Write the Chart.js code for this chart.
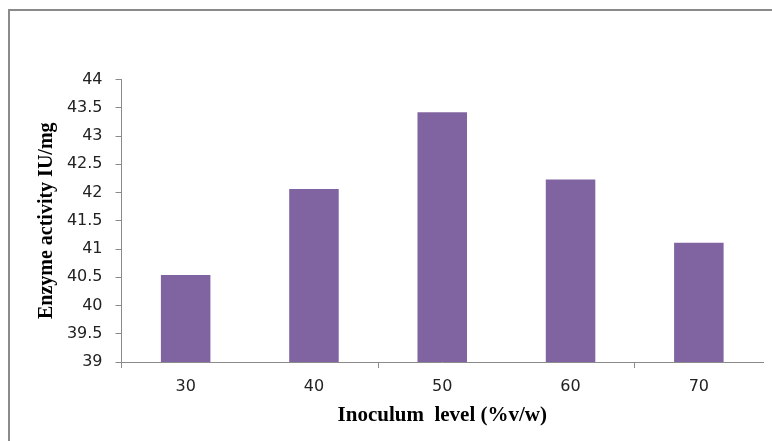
<!DOCTYPE html>
<html>
<head>
<meta charset="utf-8">
<script src="https://cdn.jsdelivr.net/npm/chart.js@4/dist/chart.umd.min.js"></script>
<style>
  html, body { margin: 0; padding: 0; background: #ffffff; overflow: hidden; }
  #wrap { position: relative; width: 772px; height: 441px; }
  #frame {
    position: absolute; left: 8px; top: 9px; width: 900px; height: 600px;
    border-left: 2px solid #8a8a8a; border-top: 2px solid #8a8a8a;
  }
  #c { position: absolute; left: 0; top: 0; }
</style>
</head>
<body>
<div id="wrap">
  <div id="frame"></div>
  <canvas id="c" width="772" height="441"></canvas>
</div>
<script>
// Inoculum level (%v/w) and measured enzyme activity (IU/mg)
const inoculumLevels = ['30', '40', '50', '60', '70'];
const enzymeActivity = [40.54, 42.06, 43.42, 42.23, 41.11];
const yMin = 39;
const yMax = 44;
const yStep = 0.5;

const axisGrey = '#8a8a8a';

new Chart(document.getElementById('c'), {
  type: 'bar',
  data: {
    labels: inoculumLevels,
    datasets: [{
      data: enzymeActivity,
      backgroundColor: '#8064a2',
      borderWidth: 0,
      categoryPercentage: 1,
      barPercentage: 0.386
    }]
  },
  options: {
    responsive: false,
    animation: false,
    devicePixelRatio: 1,
    layout: { padding: { top: 79.5, right: 9, left: 0, bottom: 0 } },
    plugins: { legend: { display: false }, tooltip: { enabled: false } },
    scales: {
      x: {
        afterFit: (s) => { s.height = 441 - 362; },
        grid: {
          offset: true,
          drawOnChartArea: false,
          drawTicks: true,
          tickLength: 6,
          tickColor: (ctx) => (ctx.index % 2 === 0 && ctx.index < 5) ? axisGrey : 'rgba(0,0,0,0)'
        },
        border: { display: true, color: axisGrey, width: 1 },
        ticks: {
          color: '#222222',
          padding: 9,
          font: { family: 'DejaVu Sans', size: 16 }
        },
        title: {
          display: true,
          text: 'Inoculum  level (%v/w)',
          color: '#000000',
          padding: { top: 0, bottom: 13 },
          font: { family: 'Liberation Serif', size: 21, weight: 'bold' }
        }
      },
      y: {
        min: yMin,
        max: yMax,
        afterFit: (s) => { s.width = 121.5; },
        grid: {
          drawOnChartArea: false,
          drawTicks: true,
          tickLength: 6,
          tickColor: axisGrey
        },
        border: { display: true, color: axisGrey, width: 1 },
        ticks: {
          stepSize: yStep,
          color: '#222222',
          padding: 13,
          font: { family: 'DejaVu Sans', size: 16 },
          callback: (v) => String(v)
        },
        title: {
          display: true,
          text: 'Enzyme activity IU/mg',
          color: '#000000',
          padding: { top: 35, bottom: 0 },
          font: { family: 'Liberation Serif', size: 20, weight: 'bold' }
        }
      }
    }
  }
});
</script>
</body>
</html>
